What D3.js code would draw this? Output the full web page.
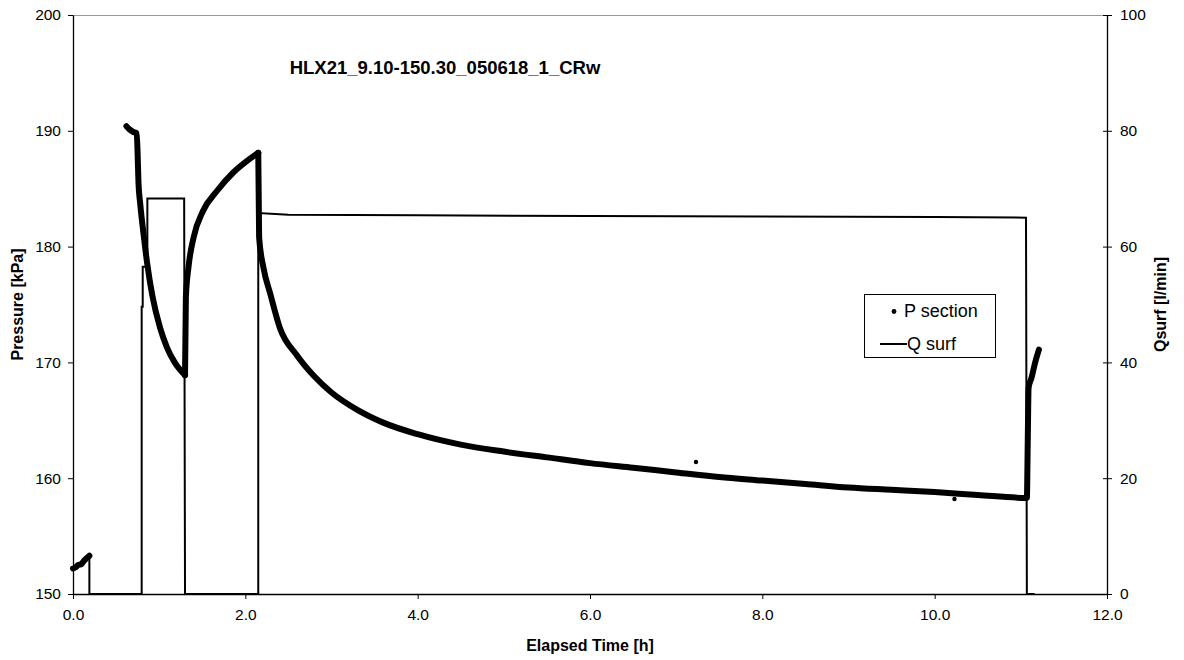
<!DOCTYPE html>
<html>
  <head>
    <meta charset="utf-8">
    <script src="https://cdn.jsdelivr.net/npm/d3@7"></script>
    <style>
      body { margin: 0; background: #fff; }
      text { font-family: "Liberation Sans", Arial, sans-serif; }
    </style>
  </head>
  <body>
    <script>
      // pressure in the test section, in separate pieces (gaps in the logging)
      var pStartTime = [0.00, 0.03, 0.06, 0.10, 0.13, 0.16, 0.19];
      var pStartVal  = [152.2, 152.3, 152.5, 152.6, 152.9, 153.1, 153.3];

      var pFlow1Time = [0.62, 0.66, 0.70, 0.74, 0.75, 0.76, 0.78, 0.82, 0.86, 0.92, 1.01, 1.09, 1.18, 1.30];
      var pFlow1Val  = [190.4, 190.1, 189.9, 189.8, 188.0, 185.5, 183.7, 181.0, 178.6, 175.8, 173.0, 171.3, 170.0, 168.9];

      var pRecTime = [1.30, 1.31, 1.34, 1.40, 1.51, 1.67, 1.86, 2.02, 2.15];
      var pRecVal  = [168.9, 175.6, 178.2, 180.8, 183.1, 184.8, 186.4, 187.4, 188.1];

      var pFlow2Time = [2.15, 2.16, 2.21, 2.29, 2.40, 2.6, 2.8, 3.0, 3.3, 3.6, 4.0, 4.5, 5.0, 5.5, 6.0, 6.5,
                        7.0, 7.5, 8.0, 8.5, 9.0, 9.5, 10.0, 10.5, 11.06, 11.07, 11.08, 11.09, 11.125, 11.17, 11.21];
      var pFlow2Val  = [188.1, 180.8, 178.2, 175.9, 173.0, 170.6, 168.8, 167.4, 165.9, 164.8, 163.8, 162.9, 162.3, 161.8, 161.3, 160.9,
                        160.5, 160.1, 159.8, 159.5, 159.2, 159.0, 158.8, 158.55, 158.3, 158.3, 163.0, 167.8, 168.7, 170.1, 171.1];

      // a few stray readings off the main band
      var pOutTime = [7.23, 10.23];
      var pOutVal  = [161.4, 158.2];

      // surface flow rate
      var qTime = [0, 0.10, 0.19, 0.19, 0.797, 0.797, 0.809, 0.809, 0.863, 0.863, 1.29, 1.30, 2.15, 2.15,
                   2.5, 4.0, 6.0, 8.0, 10.0, 11.06, 11.07, 11.16];
      var qVal  = [4.5, 5.5, 6.5, 0, 0, 49.6, 49.6, 56.5, 56.5, 68.3, 68.3, 0, 0, 65.8,
                   65.5, 65.4, 65.3, 65.2, 65.1, 65.0, 0, 0];

      var xTicks = [0, 2, 4, 6, 8, 10, 12];
      var pTicks = [150, 160, 170, 180, 190, 200];
      var qTicks = [0, 20, 40, 60, 80, 100];

      var title = "HLX21_9.10-150.30_050618_1_CRw";

      var width = 1184;
      var height = 660;
      var pad = {left: 73, right: 1184 - 1107, top: 15, bottom: 660 - 594};

      var svg = d3.select("body")
                  .append("svg")
                  .attr("width", width)
                  .attr("height", height);

      var xScale = d3.scaleLinear()
                     .domain([0, 12])
                     .range([pad.left, width - pad.right]);
      var pScale = d3.scaleLinear()
                     .domain([150, 200])
                     .range([height - pad.bottom, pad.top]);
      var qScale = d3.scaleLinear()
                     .domain([0, 100])
                     .range([height - pad.bottom, pad.top]);

      // zip two arrays into [x, y] pairs
      function pairs(ts, vs) {
        return ts.map(function(t, i) { return [t, vs[i]]; });
      }

      // top border of plot area (thin grey)
      svg.append("line")
         .attr("x1", pad.left).attr("x2", width - pad.right)
         .attr("y1", pad.top + 0.5).attr("y2", pad.top + 0.5)
         .attr("stroke", "#999").attr("stroke-width", 1);

      // Q surf line
      var qLine = d3.line()
                    .x(function(d) { return xScale(d[0]); })
                    .y(function(d) { return qScale(d[1]); });
      svg.append("path")
         .datum(pairs(qTime, qVal))
         .attr("fill", "none")
         .attr("stroke", "#000")
         .attr("stroke-width", 2)
         .attr("d", qLine);

      // P section: dense dots, drawn as a thick band
      var pLine = d3.line()
                    .x(function(d) { return xScale(d[0]); })
                    .y(function(d) { return pScale(d[1]); })
                    .curve(d3.curveMonotoneX);
      var pieces = [pairs(pStartTime, pStartVal), pairs(pFlow1Time, pFlow1Val),
                    pairs(pRecTime, pRecVal), pairs(pFlow2Time, pFlow2Val)];
      svg.selectAll(".pband")
         .data(pieces)
         .enter()
         .append("path")
         .attr("class", "pband")
         .attr("fill", "none")
         .attr("stroke", "#000")
         .attr("stroke-width", 6)
         .attr("stroke-linecap", "round")
         .attr("stroke-linejoin", "round")
         .attr("d", pLine);
      svg.selectAll(".pout")
         .data(pairs(pOutTime, pOutVal))
         .enter()
         .append("circle")
         .attr("class", "pout")
         .attr("cx", function(d) { return xScale(d[0]); })
         .attr("cy", function(d) { return pScale(d[1]); })
         .attr("r", 2.2)
         .attr("fill", "#000");

      // axes
      var xAxis = d3.axisBottom(xScale)
                    .tickValues(xTicks)
                    .tickFormat(d3.format(".1f"))
                    .tickSize(5)
                    .tickSizeOuter(0);
      var pAxis = d3.axisLeft(pScale)
                    .tickValues(pTicks)
                    .tickSize(5)
                    .tickSizeOuter(0);
      var qAxis = d3.axisRight(qScale)
                    .tickValues(qTicks)
                    .tickSize(5)
                    .tickSizeOuter(0);

      var gx = svg.append("g")
                  .attr("transform", "translate(0," + (height - pad.bottom) + ")")
                  .call(xAxis);
      var gp = svg.append("g")
                  .attr("transform", "translate(" + pad.left + ",0)")
                  .call(pAxis);
      var gq = svg.append("g")
                  .attr("transform", "translate(" + (width - pad.right) + ",0)")
                  .call(qAxis);
      // right axis ticks cross the line
      gq.selectAll(".tick line").attr("x1", -4);

      [gx, gp, gq].forEach(function(g) {
        g.selectAll("path").attr("stroke", "#000").attr("stroke-width", 1.3);
        g.selectAll("line").attr("stroke", "#000");
        g.selectAll("text")
         .style("font-family", "'Liberation Sans', Arial, sans-serif")
         .style("font-size", "15.5px")
         .attr("fill", "#000");
      });
      gx.selectAll("text").attr("y", 15).attr("dy", "0.71em");
      gp.selectAll("text").attr("x", -12);
      gq.selectAll("text").attr("x", 13);

      // title
      svg.append("text")
         .attr("x", 445)
         .attr("y", 74)
         .attr("text-anchor", "middle")
         .style("font-size", "18.5px")
         .style("font-weight", "bold")
         .text(title);

      // axis labels
      svg.append("text")
         .attr("x", xScale(6))
         .attr("y", 651)
         .attr("text-anchor", "middle")
         .style("font-size", "16px")
         .style("font-weight", "bold")
         .text("Elapsed Time [h]");
      svg.append("text")
         .attr("transform", "translate(23," + pScale(175) + ") rotate(-90)")
         .attr("text-anchor", "middle")
         .style("font-size", "16px")
         .style("font-weight", "bold")
         .text("Pressure [kPa]");
      svg.append("text")
         .attr("transform", "translate(1166," + qScale(50) + ") rotate(-90)")
         .attr("text-anchor", "middle")
         .style("font-size", "16px")
         .style("font-weight", "bold")
         .text("Qsurf [l/min]");

      // legend
      var lg = svg.append("g").attr("transform", "translate(864,294)");
      lg.append("rect")
        .attr("x", 0.5).attr("y", 0.5)
        .attr("width", 131)
        .attr("height", 63)
        .attr("fill", "#fff")
        .attr("stroke", "#000");
      lg.append("circle")
        .attr("cx", 30).attr("cy", 17.5).attr("r", 2.4).attr("fill", "#000");
      lg.append("text")
        .attr("x", 40).attr("y", 23)
        .style("font-size", "18px")
        .text("P section");
      lg.append("line")
        .attr("x1", 16).attr("x2", 43)
        .attr("y1", 50).attr("y2", 50)
        .attr("stroke", "#000").attr("stroke-width", 2);
      lg.append("text")
        .attr("x", 43).attr("y", 56)
        .style("font-size", "18px")
        .text("Q surf");
    </script>
  </body>
</html>
